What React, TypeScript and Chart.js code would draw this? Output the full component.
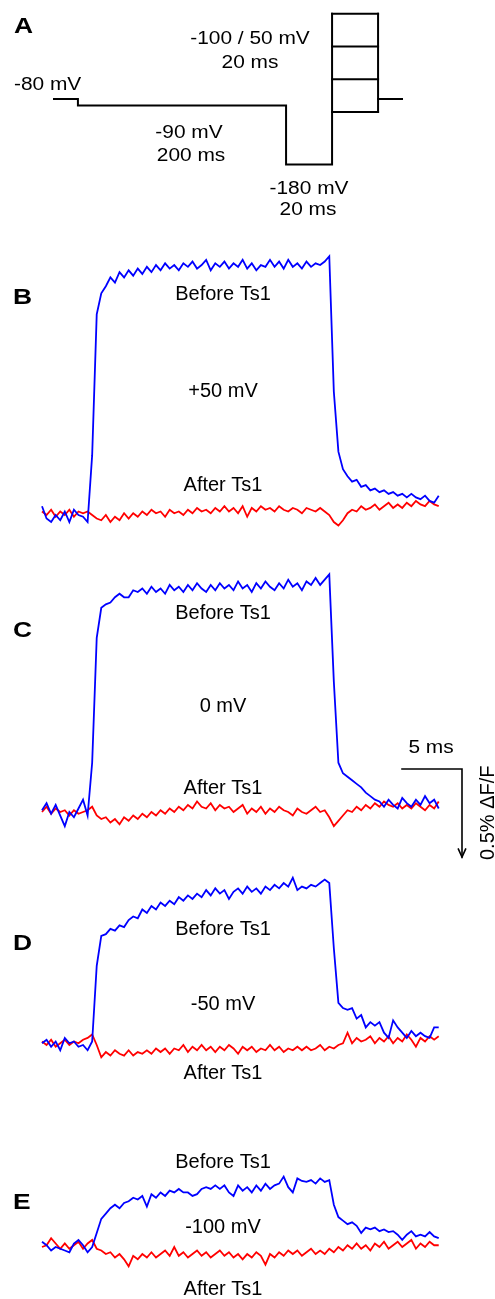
import React, { useEffect, useRef } from "react";
import { Chart, registerables } from "chart.js";

Chart.register(...registerables);

// ---------------- data ----------------
// sampling interval of the fluorescence traces (ms)
const DT = 0.38;
const N = 88;
const TIME_MS = Array.from({ length: N }, (_, i) => +(i * DT).toFixed(3));

// ΔF/F (%) traces, deflection upwards positive; "Before Ts1" (blue) / "After Ts1" (red)
const beforeB = [0.05,-0.02,-0.04,0.00,-0.03,0.02,-0.04,0.03,0.00,-0.01,-0.04,
  0.34,1.14,1.26,1.30,1.35,1.32,1.38,1.35,1.39,1.36,
  1.40,1.37,1.41,1.38,1.42,1.39,1.43,1.40,1.42,1.39,
  1.43,1.41,1.44,1.40,1.42,1.45,1.39,1.43,1.41,1.44,
  1.40,1.43,1.41,1.45,1.40,1.43,1.39,1.42,1.41,1.45,
  1.41,1.44,1.40,1.45,1.41,1.43,1.40,1.44,1.41,1.43,
  1.42,1.44,1.47,0.70,0.36,0.26,0.22,0.19,0.20,0.16,
  0.17,0.14,0.15,0.13,0.14,0.12,0.13,0.11,0.12,0.10,
  0.12,0.10,0.09,0.11,0.08,0.07,0.11];
const afterB = [0.02,0.00,0.03,-0.01,0.02,0.00,0.03,-0.01,0.02,0.01,0.02,
  0.00,-0.02,-0.03,0.00,-0.04,-0.01,-0.03,0.01,-0.02,0.01,
  -0.01,0.02,0.00,0.03,0.01,0.02,-0.01,0.03,0.01,0.02,
  0.00,0.03,0.01,0.04,0.02,0.03,0.01,0.04,0.02,0.05,
  0.02,0.04,0.01,0.05,-0.01,0.04,0.02,0.05,0.03,0.04,
  0.02,0.05,0.03,0.02,0.04,0.03,0.01,0.04,0.03,0.02,
  0.04,0.02,0.00,-0.04,-0.06,-0.03,0.01,0.03,0.02,0.05,
  0.03,0.04,0.06,0.03,0.05,0.07,0.04,0.06,0.04,0.07,
  0.05,0.08,0.06,0.05,0.08,0.06,0.05];

const beforeC = [0.01,0.05,-0.01,0.04,-0.02,-0.08,0.00,-0.03,0.02,0.07,-0.02,
  0.28,0.99,1.16,1.18,1.19,1.22,1.24,1.22,1.22,1.26,
  1.25,1.27,1.24,1.28,1.25,1.27,1.24,1.29,1.26,1.28,
  1.25,1.29,1.26,1.30,1.27,1.25,1.29,1.26,1.30,1.27,
  1.29,1.26,1.31,1.27,1.29,1.25,1.30,1.27,1.31,1.28,
  1.26,1.30,1.27,1.32,1.28,1.30,1.26,1.31,1.29,1.33,
  1.29,1.32,1.35,0.74,0.28,0.22,0.20,0.18,0.16,0.14,
  0.11,0.09,0.07,0.06,0.03,0.07,0.04,0.02,0.08,0.05,
  0.03,0.07,0.04,0.09,0.05,0.07,0.02];
const afterC = [0.00,0.03,-0.01,0.02,0.00,0.01,-0.02,0.01,-0.01,0.00,0.01,
  0.03,-0.02,-0.04,-0.03,-0.06,-0.04,-0.07,-0.03,-0.05,-0.02,
  -0.04,-0.01,-0.03,0.00,-0.02,0.01,-0.01,0.02,0.00,0.03,
  0.01,0.04,0.02,0.06,0.03,0.02,0.05,0.01,0.04,0.02,
  0.03,0.00,0.02,0.04,-0.01,0.02,0.00,0.03,-0.01,0.02,
  0.00,0.03,0.01,0.00,-0.02,0.02,0.00,-0.01,0.01,0.03,
  0.00,0.01,-0.03,-0.08,-0.05,-0.02,0.01,0.00,0.03,0.01,
  0.04,0.02,0.05,0.03,0.06,0.04,0.03,0.05,0.02,0.04,
  0.02,0.05,0.03,0.01,0.04,0.02,0.06];

const beforeD = [0.01,0.03,-0.01,0.02,-0.03,0.04,0.01,0.02,-0.01,0.00,-0.03,
  0.02,0.45,0.62,0.63,0.66,0.65,0.68,0.67,0.71,0.73,
  0.72,0.77,0.75,0.79,0.77,0.81,0.79,0.82,0.80,0.84,
  0.82,0.85,0.83,0.86,0.84,0.88,0.85,0.89,0.86,0.88,
  0.83,0.87,0.89,0.86,0.90,0.87,0.89,0.86,0.90,0.88,
  0.91,0.89,0.92,0.90,0.95,0.88,0.90,0.89,0.91,0.90,
  0.92,0.94,0.92,0.55,0.24,0.21,0.20,0.21,0.15,0.17,
  0.10,0.13,0.11,0.13,0.07,0.04,0.14,0.10,0.07,0.04,
  0.08,0.05,0.07,0.05,0.04,0.10,0.10];
const afterD = [0.02,0.00,0.03,-0.01,0.01,0.03,0.00,0.02,0.01,0.03,0.04,
  0.06,0.00,-0.07,-0.04,-0.06,-0.03,-0.05,-0.06,-0.03,-0.06,
  -0.04,-0.05,-0.03,-0.05,-0.02,-0.04,-0.02,-0.05,-0.02,-0.03,
  0.00,-0.04,-0.01,-0.03,0.00,-0.03,-0.01,-0.04,-0.01,-0.03,
  0.00,-0.02,-0.05,-0.01,-0.03,-0.01,-0.04,-0.02,-0.03,0.00,
  -0.03,-0.01,-0.04,-0.02,-0.03,-0.01,-0.03,-0.01,-0.03,-0.02,
  0.00,-0.03,-0.01,-0.02,0.00,0.01,0.07,0.01,0.04,0.02,
  0.03,0.05,0.01,0.04,0.02,0.05,0.01,0.04,0.02,0.06,
  0.03,-0.01,0.04,0.02,0.05,0.03,0.05];

const beforeE = [0.03,0.01,-0.02,0.00,-0.01,-0.02,-0.03,0.02,0.04,0.01,-0.03,
  0.00,0.08,0.16,0.19,0.22,0.24,0.22,0.25,0.26,0.28,
  0.27,0.29,0.23,0.30,0.28,0.31,0.29,0.32,0.31,0.33,
  0.31,0.31,0.29,0.30,0.33,0.34,0.33,0.35,0.33,0.35,
  0.31,0.29,0.35,0.32,0.34,0.31,0.35,0.32,0.36,0.33,
  0.35,0.36,0.40,0.34,0.31,0.39,0.375,0.37,0.38,0.36,
  0.39,0.37,0.38,0.24,0.17,0.15,0.13,0.14,0.12,0.08,
  0.11,0.10,0.11,0.09,0.10,0.085,0.09,0.07,0.04,0.07,
  0.09,0.06,0.07,0.06,0.085,0.06,0.05];
const afterE = [0.00,0.01,0.05,0.02,-0.01,0.02,-0.01,0.01,0.03,-0.01,0.02,
  0.04,-0.01,-0.02,-0.04,-0.03,-0.06,-0.04,-0.07,-0.11,-0.05,
  -0.07,-0.04,-0.06,-0.03,-0.06,-0.04,-0.02,-0.05,0.00,-0.05,
  -0.03,-0.06,-0.04,-0.02,-0.05,-0.03,-0.06,-0.04,-0.02,-0.05,
  -0.03,-0.06,-0.04,-0.07,-0.04,-0.06,-0.03,-0.05,-0.10,-0.04,
  -0.06,-0.03,-0.05,-0.02,-0.04,-0.02,-0.05,-0.03,-0.01,-0.04,
  -0.02,-0.04,-0.01,-0.03,0.00,-0.02,0.01,-0.01,0.02,-0.01,
  0.01,-0.02,0.02,0.00,0.03,-0.01,0.01,0.03,0.00,0.02,
  0.04,-0.01,0.02,0.00,0.03,0.01,0.01];

// Voltage protocol (panel A); time in schematic units (drawing not to scale)
const protoTime = [0, 10.4, 10.4, 100.9, 100.9, 120.9, 120.9];
const protoMv = [-80, -80, -90, -90, -180, -180, 50];
const testLevelsMv = [50, 0, -50, -100];
const testStart = 120.9;
const testEnd = 140.9;
const tailEnd = 151.3;
const holdingMv = -80;

// Scale bar
const SCALE_MS = 5;
const SCALE_PCT = 0.5;
const SCALE_T0 = 30;
const SCALE_Y0 = 0.244;

// ---------------- layout ----------------
const W = 495;
const H = 1299;
const TRACE_X0 = 42; // px where trace time 0 lies
const PX_PER_MS = 12;
const PX_PER_PCT = 176;
const BASE_B = 515;
const BASE_C = 812;
const BASE_D = 1045;
const BASE_E = 1247;
const P_X0 = 54;
const P_PX_PER_U = 2.3;
const P_Y_HOLD = 99;
const P_PX_PER_MV = 0.655;

const BLUE = "#0000ff";
const RED = "#ff0000";
const FONT = '"Liberation Sans", Arial, Helvetica, sans-serif';

type Lbl = { t: string; x: number; y: number; size: number; bold?: boolean; align?: CanvasTextAlign; sx?: number; rot?: number };
const LABELS: Lbl[] = [
  { t: "A", x: 14, y: 33, size: 22, bold: true, align: "left", sx: 1.2 },
  { t: "-80 mV", x: 14, y: 90, size: 18, align: "left", sx: 1.16 },
  { t: "-100 / 50 mV", x: 250, y: 44, size: 18, sx: 1.16 },
  { t: "20 ms", x: 250, y: 68, size: 18, sx: 1.16 },
  { t: "-90 mV", x: 189, y: 138, size: 18, sx: 1.16 },
  { t: "200 ms", x: 191, y: 161, size: 18, sx: 1.16 },
  { t: "-180 mV", x: 309, y: 194, size: 18, sx: 1.16 },
  { t: "20 ms", x: 308, y: 215, size: 18, sx: 1.16 },

  { t: "B", x: 13, y: 304, size: 22, bold: true, align: "left", sx: 1.2 },
  { t: "Before Ts1", x: 223, y: 300, size: 20 },
  { t: "+50 mV", x: 223, y: 397, size: 20 },
  { t: "After Ts1", x: 223, y: 491, size: 20 },

  { t: "C", x: 13, y: 637, size: 22, bold: true, align: "left", sx: 1.2 },
  { t: "Before Ts1", x: 223, y: 619, size: 20 },
  { t: "0 mV", x: 223, y: 712, size: 20 },
  { t: "After Ts1", x: 223, y: 794, size: 20 },

  { t: "D", x: 13, y: 950, size: 22, bold: true, align: "left", sx: 1.2 },
  { t: "Before Ts1", x: 223, y: 935, size: 20 },
  { t: "-50 mV", x: 223, y: 1010, size: 20 },
  { t: "After Ts1", x: 223, y: 1079, size: 20 },

  { t: "E", x: 13, y: 1209, size: 22, bold: true, align: "left", sx: 1.2 },
  { t: "Before Ts1", x: 223, y: 1168, size: 20 },
  { t: "-100 mV", x: 223, y: 1233, size: 20 },
  { t: "After Ts1", x: 223, y: 1295, size: 20 },

  { t: "5 ms", x: 431, y: 753, size: 18, sx: 1.16 },
  { t: "0.5% \u0394F/F", x: 494, y: 860, size: 20, align: "left", rot: -Math.PI / 2 },
];

const textPlugin = {
  id: "figText",
  afterDraw(chart: any) {
    const ctx = chart.ctx as CanvasRenderingContext2D;
    for (const l of LABELS) {
      ctx.save();
      ctx.fillStyle = "#000";
      ctx.font = `${l.bold ? "bold " : ""}${l.size}px ${FONT}`;
      ctx.textAlign = l.align || "center";
      ctx.textBaseline = "alphabetic";
      ctx.translate(l.x, l.y);
      if (l.rot) ctx.rotate(l.rot);
      ctx.scale(l.sx || 1, 1);
      ctx.fillText(l.t, 0, 0);
      ctx.restore();
    }
  },
};

const whiteBg = {
  id: "whiteBg",
  beforeDraw(chart: any) {
    const ctx = chart.ctx;
    ctx.save();
    ctx.fillStyle = "#fff";
    ctx.fillRect(0, 0, chart.width, chart.height);
    ctx.restore();
  },
};

function traceAxis(base: number) {
  return { type: "linear", display: false, min: -(H - base) / PX_PER_PCT, max: base / PX_PER_PCT };
}

function trace(values: number[], color: string, axis: string) {
  return {
    data: values.map((v, i) => ({ x: TIME_MS[i], y: v })),
    borderColor: color,
    borderWidth: 1.8,
    pointRadius: 0,
    tension: 0,
    fill: false,
    xAxisID: "x",
    yAxisID: axis,
  };
}

function blackLine(pts: { x: number; y: number }[], xAxis: string, yAxis: string, w = 2) {
  return {
    data: pts,
    borderColor: "#000",
    borderWidth: w,
    pointRadius: 0,
    tension: 0,
    fill: false,
    xAxisID: xAxis,
    yAxisID: yAxis,
    borderCapStyle: "square",
  };
}

export default function App() {
  const ref = useRef<HTMLCanvasElement | null>(null);
  useEffect(() => {
    if (!ref.current) return;
    const datasets: any[] = [];
    // protocol
    datasets.push(blackLine(protoTime.map((t, i) => ({ x: t, y: protoMv[i] })), "xP", "yP"));
    for (const L of testLevelsMv) {
      datasets.push(blackLine([{ x: testStart, y: L }, { x: testEnd, y: L }], "xP", "yP"));
    }
    datasets.push(blackLine([{ x: testEnd, y: testLevelsMv[0] }, { x: testEnd, y: testLevelsMv[testLevelsMv.length - 1] }], "xP", "yP"));
    datasets.push(blackLine([{ x: testEnd, y: holdingMv }, { x: tailEnd, y: holdingMv }], "xP", "yP"));
    // traces: blue first so it is drawn on top
    datasets.push(trace(beforeB, BLUE, "yB"), trace(afterB, RED, "yB"));
    datasets.push(trace(beforeC, BLUE, "yC"), trace(afterC, RED, "yC"));
    datasets.push(trace(beforeD, BLUE, "yD"), trace(afterD, RED, "yD"));
    datasets.push(trace(beforeE, BLUE, "yE"), trace(afterE, RED, "yE"));
    // scale bar
    const sx1 = SCALE_T0 + SCALE_MS;
    const sy1 = SCALE_Y0 - SCALE_PCT;
    datasets.push(blackLine([{ x: SCALE_T0, y: SCALE_Y0 }, { x: sx1, y: SCALE_Y0 }, { x: sx1, y: sy1 }], "x", "yC", 1.6));
    datasets.push(blackLine([{ x: sx1 - 0.3, y: sy1 + 0.045 }, { x: sx1, y: sy1 }, { x: sx1 + 0.3, y: sy1 + 0.045 }], "x", "yC", 1.6));

    const chart = new Chart(ref.current, {
      type: "line",
      data: { datasets },
      options: {
        animation: false,
        responsive: false,
        events: [],
        layout: { padding: 0 },
        plugins: { legend: { display: false }, tooltip: { enabled: false }, title: { display: false } },
        scales: {
          x: { type: "linear", display: false, min: -TRACE_X0 / PX_PER_MS, max: (W - TRACE_X0) / PX_PER_MS },
          xP: { type: "linear", display: false, min: -P_X0 / P_PX_PER_U, max: (W - P_X0) / P_PX_PER_U },
          yP: { type: "linear", display: false, min: holdingMv - (H - P_Y_HOLD) / P_PX_PER_MV, max: holdingMv + P_Y_HOLD / P_PX_PER_MV },
          yB: traceAxis(BASE_B),
          yC: traceAxis(BASE_C),
          yD: traceAxis(BASE_D),
          yE: traceAxis(BASE_E),
        } as any,
      },
      plugins: [whiteBg, textPlugin],
    } as any);
    return () => chart.destroy();
  }, []);
  return (
    <div style={{ position: "absolute", left: 0, top: 0, width: W, height: H, background: "#fff" }}>
      <canvas ref={ref} width={W} height={H} style={{ display: "block", width: W, height: H }} />
    </div>
  );
}
